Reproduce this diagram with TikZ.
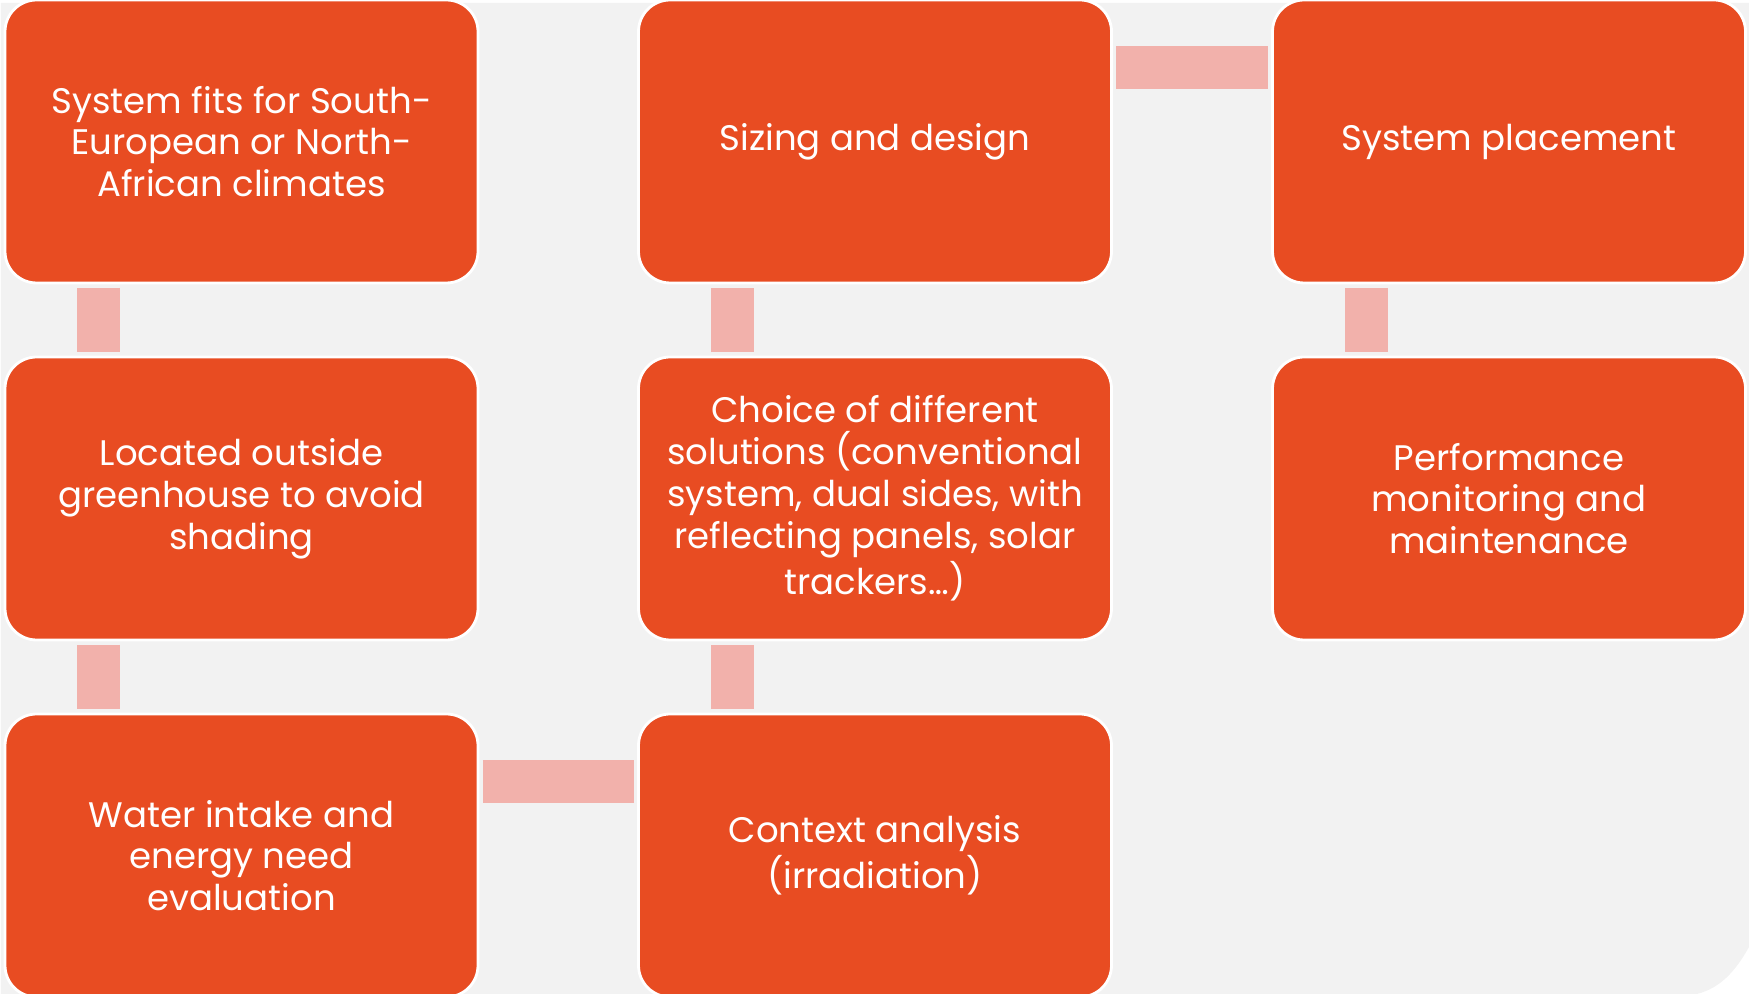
\documentclass[tikz,border=0pt]{standalone}
\usepackage{fontspec}
\setmainfont{Poppins}
\definecolor{stepfill}{HTML}{E84C22}
\definecolor{linkpink}{HTML}{F2B1AB}
\definecolor{pagegray}{HTML}{F2F2F2}
\usetikzlibrary{positioning, calc}
\tikzset{
  stepbox/.style={
    draw=white, line width=0.8pt, fill=stepfill, rounded corners=9pt,
    minimum width=4.73cm, minimum height=2.83cm, inner sep=0pt,
    text=white, align=center, font=\fontsize{10.1}{11.9}\selectfont
  },
  link/.style={draw=linkpink, line width=0.43cm, shorten <=1pt, shorten >=1pt},
}
\begin{document}
\begin{tikzpicture}
  \useasboundingbox (0,0) rectangle (17.49,-9.94);
  % Background
  \fill[pagegray] (0.01,-0.03) -- (17.49,-0.03) -- (17.49,-9.47)
    .. controls (17.35,-9.72) and (17.2,-9.88) .. (16.97,-9.94) -- (0.01,-9.94) -- cycle;

  % Left column
  \node[stepbox] (fits) at (2.415,-1.415)
    {System fits for South-\\European or North-\\African climates};
  \node[stepbox] (outside) at (2.415,-4.985)
    {Located outside\\greenhouse to avoid\\shading};
  \node[stepbox] (water) at (2.415,-8.555)
    {Water intake and\\energy need\\evaluation};

  % Middle column
  \node[stepbox] (sizing) at (8.75,-1.415) {Sizing and design};
  \node[stepbox] (choice) at (8.75,-4.985)
    {Choice of different\\solutions (conventional\\system, dual sides, with\\reflecting panels, solar\\trackers…)};
  \node[stepbox] (context) at (8.75,-8.555)
    {Context analysis\\(irradiation)};

  % Right column
  \node[stepbox] (placement) at (15.09,-1.415) {System placement};
  \node[stepbox] (monitor) at (15.09,-4.985)
    {Performance\\monitoring and\\maintenance};

  % Links
  \draw[link] ([xshift=0.95cm]fits.south west) -- ([xshift=0.95cm]outside.north west);
  \draw[link] ([xshift=0.95cm]outside.south west) -- ([xshift=0.95cm]water.north west);
  \draw[link] ([yshift=-0.69cm]water.north east) -- ([yshift=-0.69cm]context.north west);
  \draw[link] ([xshift=0.95cm]context.north west) -- ([xshift=0.95cm]choice.south west);
  \draw[link] ([xshift=0.95cm]choice.north west) -- ([xshift=0.95cm]sizing.south west);
  \draw[link] ([yshift=-0.69cm]sizing.north east) -- ([yshift=-0.69cm]placement.north west);
  \draw[link] ([xshift=0.95cm]placement.south west) -- ([xshift=0.95cm]monitor.north west);
\end{tikzpicture}
\end{document}
